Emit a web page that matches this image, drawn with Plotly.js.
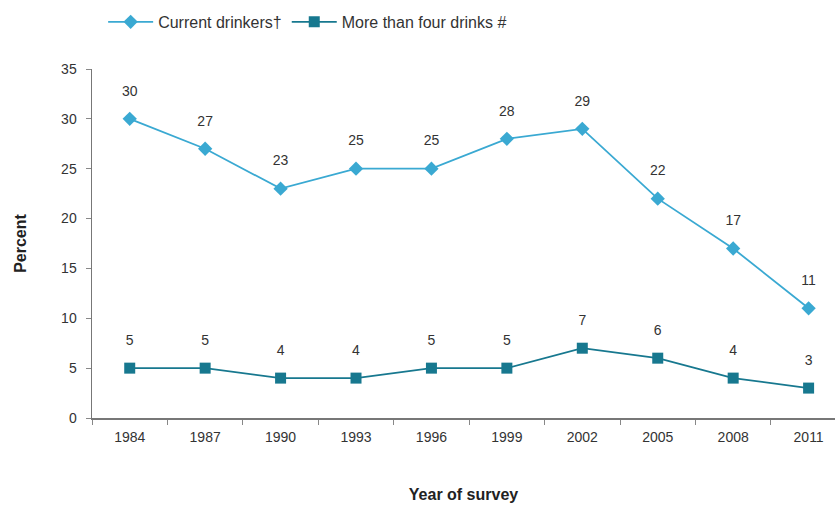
<!DOCTYPE html>
<html>
<head>
<meta charset="utf-8">
<script src="https://cdn.plot.ly/plotly-3.0.1.min.js"></script>
<style>html,body{margin:0;padding:0;background:#fff;}#chart{width:840px;height:506px;}</style>
</head>
<body>
<div id="chart"></div>
<script>
var years = ["1984","1987","1990","1993","1996","1999","2002","2005","2008","2011"];
var currentDrinkers = [30,27,23,25,25,28,29,22,17,11];
var moreThanFour = [5,5,4,4,5,5,7,6,4,3];
var seriesNames = ["Current drinkers\u2020", "More than four drinks #"];

var font = "Liberation Sans, Arial, sans-serif";
function labelTrace(vals) {
  return {
    x: years, y: vals, type: "scatter", mode: "markers+text", showlegend: false,
    hoverinfo: "skip",
    marker: {size: 30, color: "rgba(0,0,0,0)"},
    text: vals.map(String), textposition: "top center",
    textfont: {family: font, size: 14, color: "#333"}, cliponaxis: false
  };
}
var traces = [
  {
    x: years, y: currentDrinkers, name: seriesNames[0], type: "scatter",
    mode: "lines+markers",
    line: {color: "#3aa9d2", width: 1.8},
    marker: {symbol: "diamond", size: 11, color: "#3aa9d2"}
  },
  {
    x: years, y: moreThanFour, name: seriesNames[1], type: "scatter",
    mode: "lines+markers",
    line: {color: "#17788f", width: 1.8},
    marker: {symbol: "square", size: 11, color: "#17788f"}
  },
  labelTrace(currentDrinkers),
  labelTrace(moreThanFour)
];
var layout = {
  width: 840, height: 506,
  margin: {l: 92, r: 5, t: 69, b: 88},
  paper_bgcolor: "#fff", plot_bgcolor: "#fff",
  font: {family: font, size: 14, color: "#333"},
  showlegend: true,
  legend: {orientation: "h", x: 0.015, xanchor: "left", y: 1.135, yanchor: "middle",
           font: {family: font, size: 16, color: "#333"}, itemwidth: 45, traceorder: "normal"},
  xaxis: {
    type: "category", range: [-0.5, 9.35],
    showline: true, linecolor: "#777", linewidth: 1.5,
    ticks: "outside", tickson: "boundaries", ticklen: 5, tickcolor: "#888",
    showgrid: false, zeroline: false, ticklabelstandoff: 6,
    tickfont: {family: font, size: 14, color: "#333"},
    title: {text: "<b>Year of survey</b>", font: {family: font, size: 16, color: "#222"}, standoff: 44}
  },
  yaxis: {
    range: [0, 35], tickvals: [0,5,10,15,20,25,30,35],
    showline: true, linecolor: "#777", linewidth: 1.5,
    ticks: "outside", ticklen: 5, tickcolor: "#888",
    showgrid: false, zeroline: false, ticklabelstandoff: 6,
    tickfont: {family: font, size: 14, color: "#333"},
    title: {text: "<b>Percent</b>", font: {family: font, size: 16, color: "#222"}, standoff: 30}
  }
};
Plotly.newPlot("chart", traces, layout, {displayModeBar: false, staticPlot: true});
</script>
</body>
</html>
